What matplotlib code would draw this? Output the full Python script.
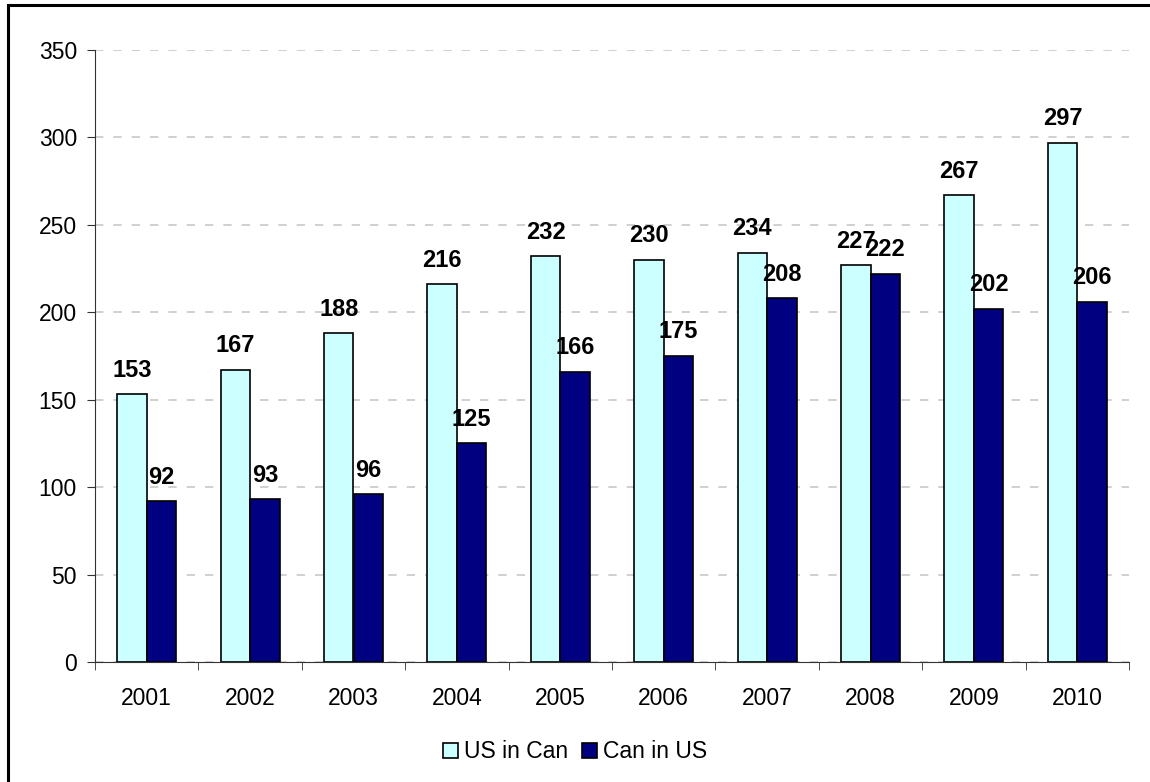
import numpy as np
import matplotlib.pyplot as plt
from matplotlib.patches import Rectangle

years = ['2001', '2002', '2003', '2004', '2005', '2006', '2007', '2008', '2009', '2010']
us_in_can = [153, 167, 188, 216, 232, 230, 234, 227, 267, 297]
can_in_us = [92, 93, 96, 125, 166, 175, 208, 222, 202, 206]

plt.rcParams['font.family'] = ['Liberation Sans', 'DejaVu Sans']

fig = plt.figure(figsize=(11.5, 7.82), dpi=100)
ax = fig.add_axes([95/1150, 1 - 662/782, 1034/1150, 612/782])

x = np.arange(len(years))
w = 0.285
b1 = ax.bar(x - w/2, us_in_can, w, color='#CCFFFF', edgecolor='black', linewidth=1.2, label='US in Can', zorder=3)
b2 = ax.bar(x + w/2, can_in_us, w, color='#000080', edgecolor='black', linewidth=1.2, label='Can in US', zorder=3)

for bars, vals in ((b1, us_in_can), (b2, can_in_us)):
    for r, v in zip(bars, vals):
        ax.annotate(str(v), (r.get_x() + r.get_width()/2, v), xytext=(0, 9),
                    textcoords='offset points', ha='center', va='bottom',
                    fontsize=17, fontweight='bold', zorder=4)

ax.set_xlim(-0.5, len(years) - 0.5)
ax.set_ylim(0, 350)
ax.set_yticks(range(0, 351, 50))
ax.set_xticks(x)
ax.set_xticklabels(years)
ax.set_xticks(np.arange(-0.5, len(years), 1), minor=True)
ax.tick_params(axis='x', which='major', length=0, pad=18, labelsize=16.5)
ax.tick_params(axis='x', which='minor', length=6, color='#333333')
ax.tick_params(axis='y', length=6, color='#333333', labelsize=16.5, pad=7)
ax.yaxis.grid(True, linestyle=(0, (5, 6)), color='#c8c8c8', linewidth=1.2, zorder=0)
for s in ('top', 'right'):
    ax.spines[s].set_visible(False)
for s in ('left', 'bottom'):
    ax.spines[s].set_color('#333333')

leg = fig.legend(loc='center', bbox_to_anchor=(0.5, 1 - 752/782), ncol=2, frameon=False,
                 fontsize=16.5, handlelength=0.67, handleheight=0.67, handletextpad=0.26,
                 columnspacing=0.57)

fig.patches.append(Rectangle((8/1150, -0.05), 1.1, 1.05 - 5/782, transform=fig.transFigure,
                             fill=False, edgecolor='black', linewidth=2.2))

fig.savefig('out.png', dpi=100)
